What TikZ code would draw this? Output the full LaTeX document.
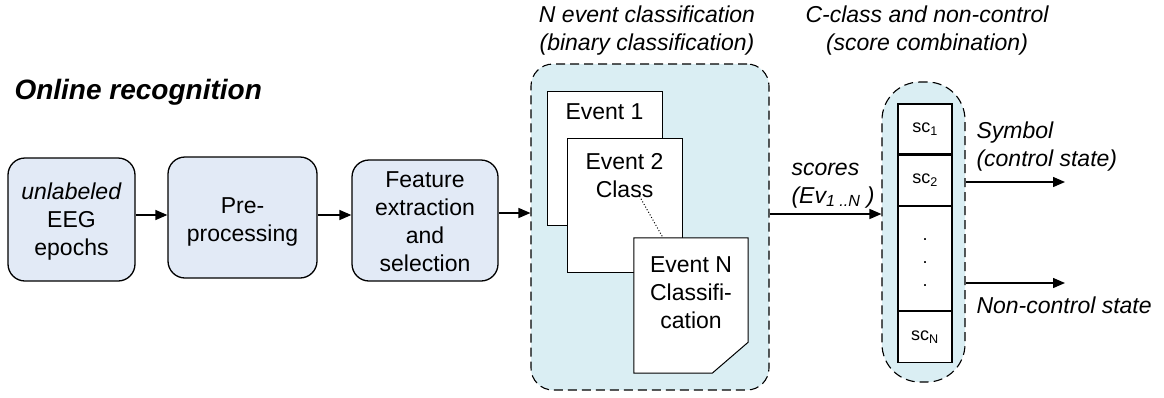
\documentclass[tikz,border=0pt]{standalone}
\usepackage{fontspec}
\setmainfont{Liberation Sans}
\usepackage{tikz}
\usetikzlibrary{arrows.meta, positioning, calc}
\definecolor{boxblue}{RGB}{226, 234, 246}
\definecolor{groupcyan}{RGB}{218, 238, 243}

\tikzset{
    stage/.style={draw=black, line width=1.3pt, fill=boxblue, rounded corners=17pt, align=center, font=\fontsize{23}{28}\selectfont},
    label text/.style={align=center, font=\fontsize{23}{28}\selectfont},
    group/.style={draw=black, line width=1.1pt, dash pattern=on 9pt off 5pt, fill=groupcyan},
    page/.style={draw=black, line width=1pt, fill=white},
    cell/.style={draw=black, line width=1.2pt, fill=white, minimum width=54pt, font=\fontsize{18}{23}\selectfont},
    flow/.style={-{Triangle[length=12pt, width=10pt]}, line width=1.4pt},
    note/.style={font=\fontsize{23}{28}\selectfont\itshape, align=center}
}

\begin{document}
\begin{tikzpicture}[x=1pt, y=-1pt]
    \useasboundingbox (0,0) rectangle (1164,397);

    % --- Tytul ---
    \node[anchor=base west, font=\fontsize{28}{30}\selectfont\bfseries\itshape] (title) at (11,99) {Online recognition};

    % --- Etapy przetwarzania ---
    \node[stage, minimum width=127pt, minimum height=123pt] (epochs) at (71.5,219.5) {};
    \node[label text] (epochsTxt) at (71.5,222) {\textit{unlabeled}\\EEG\\epochs};
    \node[stage, minimum width=149pt, minimum height=121pt] (prep) at (242.5,217.5) {};
    \node[label text] (prepTxt) at (242.5,222) {Pre-\\processing};
    \node[stage, minimum width=146pt, minimum height=121pt] (feat) at (425,220.5) {};
    \node[label text] (featTxt) at (425,222) {Feature\\extraction\\and\\selection};

    % --- Klasyfikacja N zdarzen ---
    \node[group, rounded corners=22pt, minimum width=238pt, minimum height=326pt] (events) at (650,227) {};
    \node[note, anchor=base] (evhead) at (647,50) {N event classification\\(binary classification)};

    \node[page, minimum width=115pt, minimum height=134pt] (ev1) at (604.5,158) {};
    \node[label text, below=12.5pt of ev1.north, inner sep=0pt] (ev1txt) {Event 1};
    \node[page, minimum width=115pt, minimum height=134pt] (ev2) at (624.5,205) {};
    \node[label text, below=16pt of ev2.north, inner sep=0pt] (ev2txt) {Event 2\\Class};

    % kartka z zagietym rogiem
    \node[minimum width=114pt, minimum height=135pt] (evN) at (691,305.5) {};
    \filldraw[page] (evN.north west) -- (evN.north east) -- ($(evN.south east)+(0,-31)$)
        -- ($(evN.south east)+(-36,0)$) -- (evN.south west) -- cycle;
    \node[label text, below=19pt of evN.north, inner sep=0pt] (evNtxt) {Event N\\Classifi-\\cation};

    \coordinate (dotA) at ($(ev2txt.south)+(15,-2)$);
    \coordinate (dotB) at ($(evN.north)+(-28,0)$);
    \draw[dotted, line width=1pt] (dotA) -- (dotB);

    % --- Kombinacja wynikow ---
    \node[group, rounded corners=38pt, minimum width=83pt, minimum height=300pt] (combo) at (923.5,232) {};
    \node[note, anchor=base] (cohead) at (927,50) {C-class and non-control\\(score combination)};

    \node[cell, minimum height=50pt] (sc1) at (925,129) {sc\textsubscript{1}};
    \node[cell, minimum height=50pt, below=0pt of sc1] (sc2) {sc\textsubscript{2}};
    \node[cell, minimum height=104pt, below=0pt of sc2] (dots) {};
    \node[align=center, font=\fontsize{18}{23}\selectfont] (dotsTxt) at ($(dots.center)+(0,4)$) {.\\.\\.};
    \node[cell, minimum height=51pt, below=0pt of dots] (scN) {sc\textsubscript{N}};

    % --- Strzalki ---
    \coordinate (flowY) at (0,215);
    \draw[flow] (epochs.east |- flowY) -- (prep.west |- flowY);
    \draw[flow] (prep.east |- flowY) -- (feat.west |- flowY);
    \coordinate (featOut) at (feat.east |- 0,213);
    \draw[flow] (featOut) -- (featOut -| events.west);

    \coordinate (scoresIn) at (events.east |- 0,214);
    \draw[flow] (scoresIn) -- (scoresIn -| combo.west);
    \node[note, anchor=base west, align=left] (scores) at (788,203) {scores\\(Ev\textsubscript{1 ..N} )};

    \coordinate (symEnd) at (1065,182);
    \coordinate (ncEnd) at (1065,283);
    \draw[flow] (combo.east |- symEnd) -- (symEnd);
    \draw[flow] (combo.east |- ncEnd) -- (ncEnd);
    \node[note, anchor=base west, align=left] (symbol) at (973,166) {Symbol\\(control state)};
    \node[note, anchor=base west] (noncontrol) at (973,313) {Non-control state};
\end{tikzpicture}
\end{document}
